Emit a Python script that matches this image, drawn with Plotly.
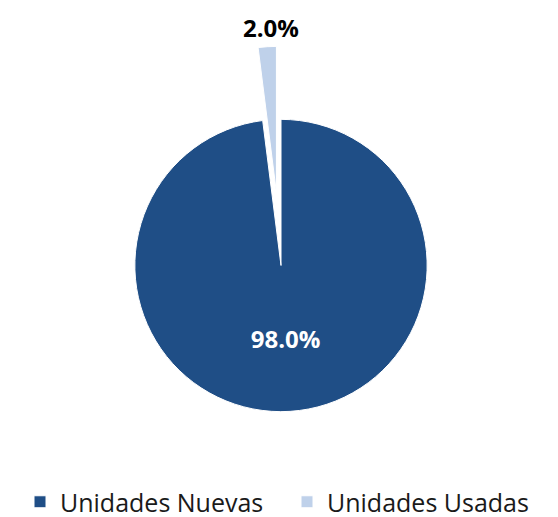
import plotly.graph_objects as go

labels = ["Unidades Nuevas", "Unidades Usadas"]
values = [98.0, 2.0]
colors = ["#1F4E86", "#BFD1EA"]
pulls = [0, 0.5]

W, H = 558, 517
cx, cy, r = 273, 259, 147
size = r * 2 * (1 + max(pulls))
dx0, dx1 = (cx - size / 2) / W, (cx + size / 2) / W
dy0, dy1 = 1 - (cy + size / 2) / H, 1 - (cy - size / 2) / H

total = sum(values)
small_label = f"{values[1] / total * 100:.1f}%"

fig = go.Figure(go.Pie(
    labels=labels, values=values, sort=False, direction="clockwise", rotation=0,
    marker=dict(colors=colors, line=dict(color="white", width=1)),
    pull=pulls,
    texttemplate="%{percent:.1%}",
    textposition=["inside", "none"],
    insidetextfont=dict(color="white", size=24, family="Open Sans", weight="bold"),
    insidetextorientation="horizontal",
    automargin=False,
    domain=dict(x=[max(dx0, 0), min(dx1, 1)], y=[max(dy0, 0), min(dy1, 1)]),
))
fig.add_annotation(
    text=f"<b>{small_label}</b>", x=263 / W, y=1 - 20 / H, xref="paper", yref="paper",
    showarrow=False, font=dict(size=24, color="black", family="Open Sans"),
    xanchor="center", yanchor="middle",
)
fig.update_layout(
    width=W, height=H,
    margin=dict(l=0, r=0, t=0, b=0),
    paper_bgcolor="white", plot_bgcolor="white",
    font=dict(family="Open Sans", color="#1a1a1a"),
    legend=dict(orientation="h", x=0.5, xanchor="center", y=1 - 497 / H, yanchor="middle",
                font=dict(size=25, color="#1a1a1a"),
                entrywidth=222, entrywidthmode="pixels",
                traceorder="normal"),
)
fig.write_html("out.html")
